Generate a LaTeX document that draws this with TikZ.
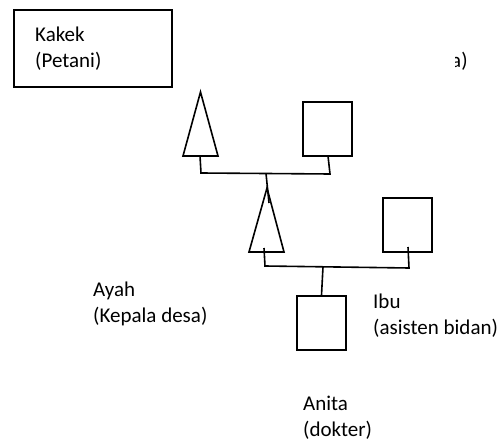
\documentclass[tikz,border=0pt]{standalone}
\usepackage{fontspec}
\setmainfont{Carlito}
\usepackage{tikz}
\usetikzlibrary{positioning}

\tikzset{
  person/.style={draw, line width=1.6pt, minimum width=49pt, minimum height=54pt, inner sep=0pt},
  link/.style={line width=1.6pt},
  lbl/.style={anchor=base west, align=left, inner sep=0pt, font=\fontsize{21}{26}\selectfont}
}

\begin{document}
\begin{tikzpicture}[x=1pt, y=-1pt]
    \useasboundingbox (0, 0) rectangle (501, 441);
    % grandparents
    \node[person, minimum width=158pt, minimum height=77pt] (kakek) at (93, 48.5) {};
    \node[lbl] (kakektxt) at (35, 68) {Kakek\\(Petani)};
    \begin{scope}
        \clip (455, 40) rectangle (480, 80);
        \node[lbl] (neneklbl) at (451, 68) {a)};
    \end{scope}
    \coordinate (t1a) at (200.5, 92);
    \coordinate (t1l) at (183, 156);
    \coordinate (t1r) at (218, 156);
    \draw[link, line join=miter] (t1a) -- (t1r) -- (t1l) -- cycle;
    \node[person] (sq1) at (327.5, 129) {};
    % parents
    \coordinate (t2a) at (267, 188);
    \coordinate (t2l) at (249, 252);
    \coordinate (t2r) at (284, 252);
    \draw[link, line join=miter] (t2a) -- (t2r) -- (t2l) -- cycle;
    \node[person] (sq2) at (407.5, 225) {};
    % child
    \node[person] (sq3) at (321.5, 323) {};
    % marriage lines
    \coordinate (m1l) at (201, 173);
    \coordinate (m1r) at (330, 174);
    \coordinate (m1c) at (266, 173.5);
    \coordinate (m1d) at (269, 203);
    \draw[link] (200, 156) -- (m1l) -- (m1r) -- (328, 156);
    \draw[link] (m1c) -- (m1d);
    \coordinate (m2l) at (265, 266);
    \coordinate (m2r) at (409, 268);
    \coordinate (m2c) at (323, 267);
    \draw[link] (264, 248) -- (m2l) -- (m2r) -- (408, 247);
    \draw[link] (m2c) -- (sq3.north);
    % labels
    \node[lbl] (ayah) at (93, 322) {Ayah\\(Kepala desa)};
    \node[lbl] (ibu) at (373, 334) {Ibu\\(asisten bidan)};
    \node[lbl] (anita) at (303, 436) {Anita\\(dokter)};
\end{tikzpicture}
\end{document}
